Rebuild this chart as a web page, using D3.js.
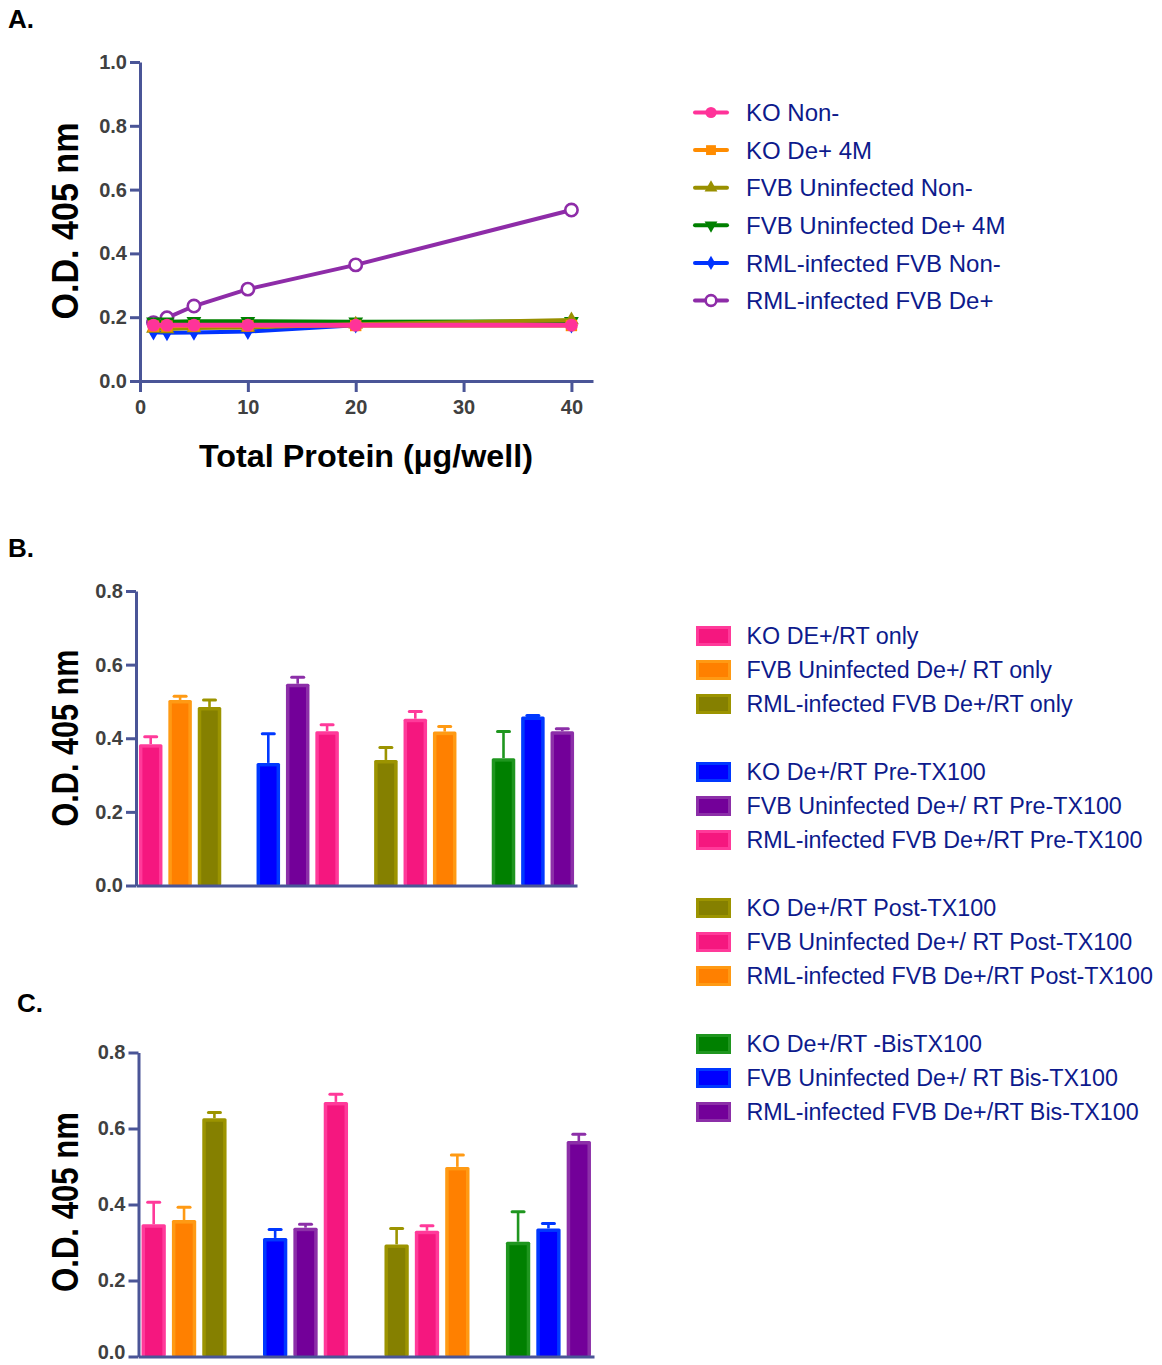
<!DOCTYPE html>
<html>
<head>
<meta charset="utf-8">
<script src="https://cdn.jsdelivr.net/npm/d3@7"></script>
<style>
  body { margin: 0; background: #fff; }
  text { font-family: "Liberation Sans", Arial, Helvetica, sans-serif; }
</style>
</head>
<body>
<svg id="fig" width="1162" height="1365"></svg>
<script>
// ---------- Panel A: dose response (O.D. 405 nm vs total protein) ----------
const proteinDoses = [1.25, 2.5, 5, 10, 20, 40];
const xTicksA = [0, 10, 20, 30, 40];
const yTicksA = [0, 0.2, 0.4, 0.6, 0.8, 1.0];
const lineNames = [
  "KO Non-",
  "KO De+ 4M",
  "FVB Uninfected Non-",
  "FVB Uninfected De+ 4M",
  "RML-infected FVB Non-",
  "RML-infected FVB De+"
];
const koNon          = [0.175, 0.175, 0.175, 0.175, 0.175, 0.175];
const koDe4M         = [0.172, 0.172, 0.173, 0.173, 0.174, 0.174];
const fvbUninfNon    = [0.165, 0.163, 0.166, 0.168, 0.178, 0.191];
const fvbUninfDe4M   = [0.186, 0.186, 0.187, 0.187, 0.186, 0.187];
const rmlFvbNon      = [0.153, 0.151, 0.152, 0.155, 0.175, 0.175];
const rmlFvbDe       = [0.183, 0.198, 0.235, 0.288, 0.364, 0.536];

// ---------- Panels B and C: bar groups ----------
const yTicksBC = [0, 0.2, 0.4, 0.6, 0.8];
const barGroups = ["RT only", "Pre-TX100", "Post-TX100", "Bis-TX100"];
const barLabels = [
  "KO DE+/RT only",
  "FVB Uninfected De+/ RT only",
  "RML-infected FVB De+/RT only",
  "KO De+/RT Pre-TX100",
  "FVB Uninfected De+/ RT Pre-TX100",
  "RML-infected FVB De+/RT Pre-TX100",
  "KO De+/RT Post-TX100",
  "FVB Uninfected De+/ RT Post-TX100",
  "RML-infected FVB De+/RT Post-TX100",
  "KO De+/RT -BisTX100",
  "FVB Uninfected De+/ RT Bis-TX100",
  "RML-infected FVB De+/RT Bis-TX100"
];
const panelBMeans  = [0.384, 0.504, 0.485, 0.333, 0.548, 0.419, 0.341, 0.453, 0.418, 0.346, 0.459, 0.419];
const panelBErrors = [0.020, 0.010, 0.019, 0.079, 0.018, 0.018, 0.034, 0.020, 0.014, 0.072, 0.003, 0.007];
const panelCMeans  = [0.348, 0.359, 0.627, 0.312, 0.339, 0.670, 0.295, 0.331, 0.499, 0.302, 0.337, 0.567];
const panelCErrors = [0.058, 0.034, 0.015, 0.022, 0.009, 0.020, 0.042, 0.013, 0.031, 0.079, 0.013, 0.018];

// ---------- styling ----------
const palette = {
  pink:   { edge: "#ff3a9a", fill: "#f5177f" },
  orange: { edge: "#ff9a14", fill: "#ff8000" },
  olive:  { edge: "#9c9400", fill: "#858000" },
  green:  { edge: "#1f961f", fill: "#008000" },
  blue:   { edge: "#0038ff", fill: "#0000ff" },
  purple: { edge: "#8c2fa8", fill: "#730099" }
};
const barColorKeys = ["pink", "orange", "olive", "blue", "purple", "pink",
                      "olive", "pink", "orange", "green", "blue", "purple"];
const axisColor = "#4a5597";
const tickTextColor = "#404040";
const legendTextColor = "#0d1a8c";

const svg = d3.select("#fig");

function styleAxis(g) {
  g.select(".domain").attr("stroke", axisColor).attr("stroke-width", 3);
  g.selectAll(".tick line").attr("stroke", axisColor).attr("stroke-width", 3);
  g.selectAll(".tick text")
    .attr("fill", tickTextColor)
    .style("font-size", "20px")
    .style("font-weight", "bold")
    .style("font-family", "'Liberation Sans', Arial, sans-serif");
}

function yTitle(x, cy, len) {
  svg.append("text")
    .attr("transform", `translate(${x},${cy}) rotate(-90)`)
    .attr("text-anchor", "middle")
    .attr("textLength", len)
    .attr("lengthAdjust", "spacingAndGlyphs")
    .style("font-size", "36px")
    .style("font-weight", "bold")
    .attr("fill", "#000")
    .text("O.D. 405 nm");
}

function panelLabel(x, y, t) {
  svg.append("text").attr("x", x).attr("y", y)
    .style("font-size", "26px").style("font-weight", "bold")
    .attr("fill", "#000").text(t);
}

// ================= Panel A =================
panelLabel(8, 28, "A.");
const xA = d3.scaleLinear().domain([0, 42]).range([140, 593]);
const yA = d3.scaleLinear().domain([0, 1.0]).range([381, 62]);

svg.append("g").attr("transform", `translate(0,${yA(0)})`)
  .call(d3.axisBottom(xA).tickValues(xTicksA).tickFormat(d3.format("d"))
        .tickSize(11).tickSizeOuter(0).tickPadding(8))
  .call(styleAxis);
svg.append("g").attr("transform", `translate(${xA(0)},0)`)
  .call(d3.axisLeft(yA).tickValues(yTicksA).tickFormat(d3.format(".1f"))
        .tickSize(10).tickSizeOuter(0).tickPadding(3))
  .call(styleAxis);

yTitle(78, 221, 197);
svg.append("text")
  .attr("x", 366).attr("y", 467)
  .attr("text-anchor", "middle")
  .attr("textLength", 334).attr("lengthAdjust", "spacingAndGlyphs")
  .style("font-size", "32px").style("font-weight", "bold")
  .attr("fill", "#000")
  .text("Total Protein (µg/well)");

const lineSeries = [
  { name: lineNames[0], values: koNon,        color: "#ff3399", shape: "circle",   fillMarker: true },
  { name: lineNames[1], values: koDe4M,       color: "#ff8c00", shape: "square",   fillMarker: true },
  { name: lineNames[2], values: fvbUninfNon,  color: "#999000", shape: "triUp",    fillMarker: true },
  { name: lineNames[3], values: fvbUninfDe4M, color: "#008000", shape: "triDown",  fillMarker: true },
  { name: lineNames[4], values: rmlFvbNon,    color: "#0033ff", shape: "diamond",  fillMarker: true },
  { name: lineNames[5], values: rmlFvbDe,     color: "#8e2ca8", shape: "ring",     fillMarker: false }
];

function markerPath(shape, scale) {
  const s = scale || 1;
  switch (shape) {
    case "circle":  return d3.symbol(d3.symbolCircle, 130 * s)();
    case "ring":    return d3.symbol(d3.symbolCircle, 120 * s)();
    case "square":  return d3.symbol(d3.symbolSquare, 130 * s)();
    case "triUp":   return d3.symbol(d3.symbolTriangle, 95 * s)();
    case "triDown": return d3.symbol(d3.symbolTriangle, 95 * s)();
    case "diamond": return d3.symbol(d3.symbolDiamond, 80 * s)();
  }
}
function drawMarker(g, shape, color, filled, x, y, scale) {
  const p = g.append("path")
    .attr("d", markerPath(shape, scale))
    .attr("transform", `translate(${x},${y})` + (shape === "triDown" ? " rotate(180)" : ""));
  if (filled) p.attr("fill", color).attr("stroke", "none");
  else p.attr("fill", "#fff").attr("stroke", color).attr("stroke-width", 2.6);
}

const lineGen = d3.line().x(d => xA(d[0])).y(d => yA(d[1]));
const gLines = svg.append("g");
// last legend entry drawn first so KO Non- ends up on top
lineSeries.slice().reverse().forEach(s => {
  const pts = proteinDoses.map((x, i) => [x, s.values[i]]);
  gLines.append("path").datum(pts)
    .attr("d", lineGen).attr("fill", "none")
    .attr("stroke", s.color).attr("stroke-width", s.shape === "circle" ? 4.8 : 4)
    .attr("stroke-linejoin", "round");
  pts.forEach(p => drawMarker(gLines, s.shape, s.color, s.fillMarker, xA(p[0]), yA(p[1]), 1));
});

// legend A
const legA = svg.append("g");
lineSeries.forEach((s, i) => {
  const cy = 112.5 + i * 37.6;
  legA.append("line").attr("x1", 695).attr("x2", 727).attr("y1", cy).attr("y2", cy)
    .attr("stroke", s.color).attr("stroke-width", 4).attr("stroke-linecap", "round");
  drawMarker(legA, s.shape, s.color, s.fillMarker, 711, cy, 0.75);
  legA.append("text").attr("x", 746).attr("y", cy).attr("dy", "0.36em")
    .style("font-size", "24px").attr("fill", legendTextColor).text(s.name);
});

// ================= Panels B and C =================
function slotOf(i) { return Math.floor(i / 3) * 4 + (i % 3); }

function barPanel(opts) {
  const { axisX, axisEnd, y0, yTop, means, errors } = opts;
  const slots = d3.range(15);
  const x = d3.scaleBand().domain(slots).range([axisX, axisEnd])
    .paddingInner(0.2).paddingOuter(0.1);
  const y = d3.scaleLinear().domain([0, 0.8]).range([y0, yTop]);
  const g = svg.append("g");

  means.forEach((v, i) => {
    const c = palette[barColorKeys[i]];
    const bx = x(slotOf(i)), bw = x.bandwidth();
    const cx = bx + bw / 2;
    const yv = y(v), ye = y(v + errors[i]);
    // error bar (upper whisker only)
    g.append("line").attr("x1", cx).attr("x2", cx).attr("y1", yv).attr("y2", ye)
      .attr("stroke", c.edge).attr("stroke-width", 2.6);
    g.append("line").attr("x1", cx - 6).attr("x2", cx + 6).attr("y1", ye).attr("y2", ye)
      .attr("stroke", c.edge).attr("stroke-width", 3).attr("stroke-linecap", "round");
    // bar: light rim with darker core
    g.append("rect").attr("x", bx).attr("y", yv).attr("width", bw).attr("height", y0 - yv)
      .attr("rx", 1.5).attr("fill", c.edge);
    g.append("rect").attr("x", bx + 3.5).attr("y", yv + 3.5)
      .attr("width", bw - 7).attr("height", Math.max(0, y0 - yv - 3.5)).attr("fill", c.fill);
  });

  svg.append("g").attr("transform", `translate(0,${y0})`)
    .call(d3.axisBottom(d3.scaleLinear().range([axisX, axisEnd])).tickValues([]).tickSizeOuter(0))
    .call(styleAxis);
  const yAxisG = svg.append("g").attr("transform", `translate(${axisX},0)`)
    .call(d3.axisLeft(y).tickValues(yTicksBC).tickFormat(d3.format(".1f"))
          .tickSize(10).tickSizeOuter(0).tickPadding(3))
    .call(styleAxis);
  return yAxisG;
}

panelLabel(8, 557, "B.");
barPanel({ axisX: 136, axisEnd: 577, y0: 885.5, yTop: 591, means: panelBMeans, errors: panelBErrors });
yTitle(78, 738, 177);

panelLabel(17, 1012, "C.");
const yAxisC = barPanel({ axisX: 138.5, axisEnd: 594, y0: 1356.5, yTop: 1052.5, means: panelCMeans, errors: panelCErrors });
// keep the bottom tick label inside the page edge
yAxisC.selectAll(".tick text").filter(d => d === 0).attr("dy", "0.1em");
yTitle(78, 1202, 180);

// legend for B and C (four blocks of three)
const legB = svg.append("g");
barLabels.forEach((label, i) => {
  const row = slotOf(i);
  const cy = 636 + row * 34;
  const c = palette[barColorKeys[i]];
  legB.append("rect").attr("x", 696).attr("y", cy - 10).attr("width", 35).attr("height", 20).attr("fill", c.edge);
  legB.append("rect").attr("x", 699).attr("y", cy - 7).attr("width", 29).attr("height", 14).attr("fill", c.fill);
  legB.append("text").attr("x", 746.5).attr("y", cy).attr("dy", "0.36em")
    .style("font-size", "23.3px").attr("fill", legendTextColor).text(label);
});
</script>
</body>
</html>
